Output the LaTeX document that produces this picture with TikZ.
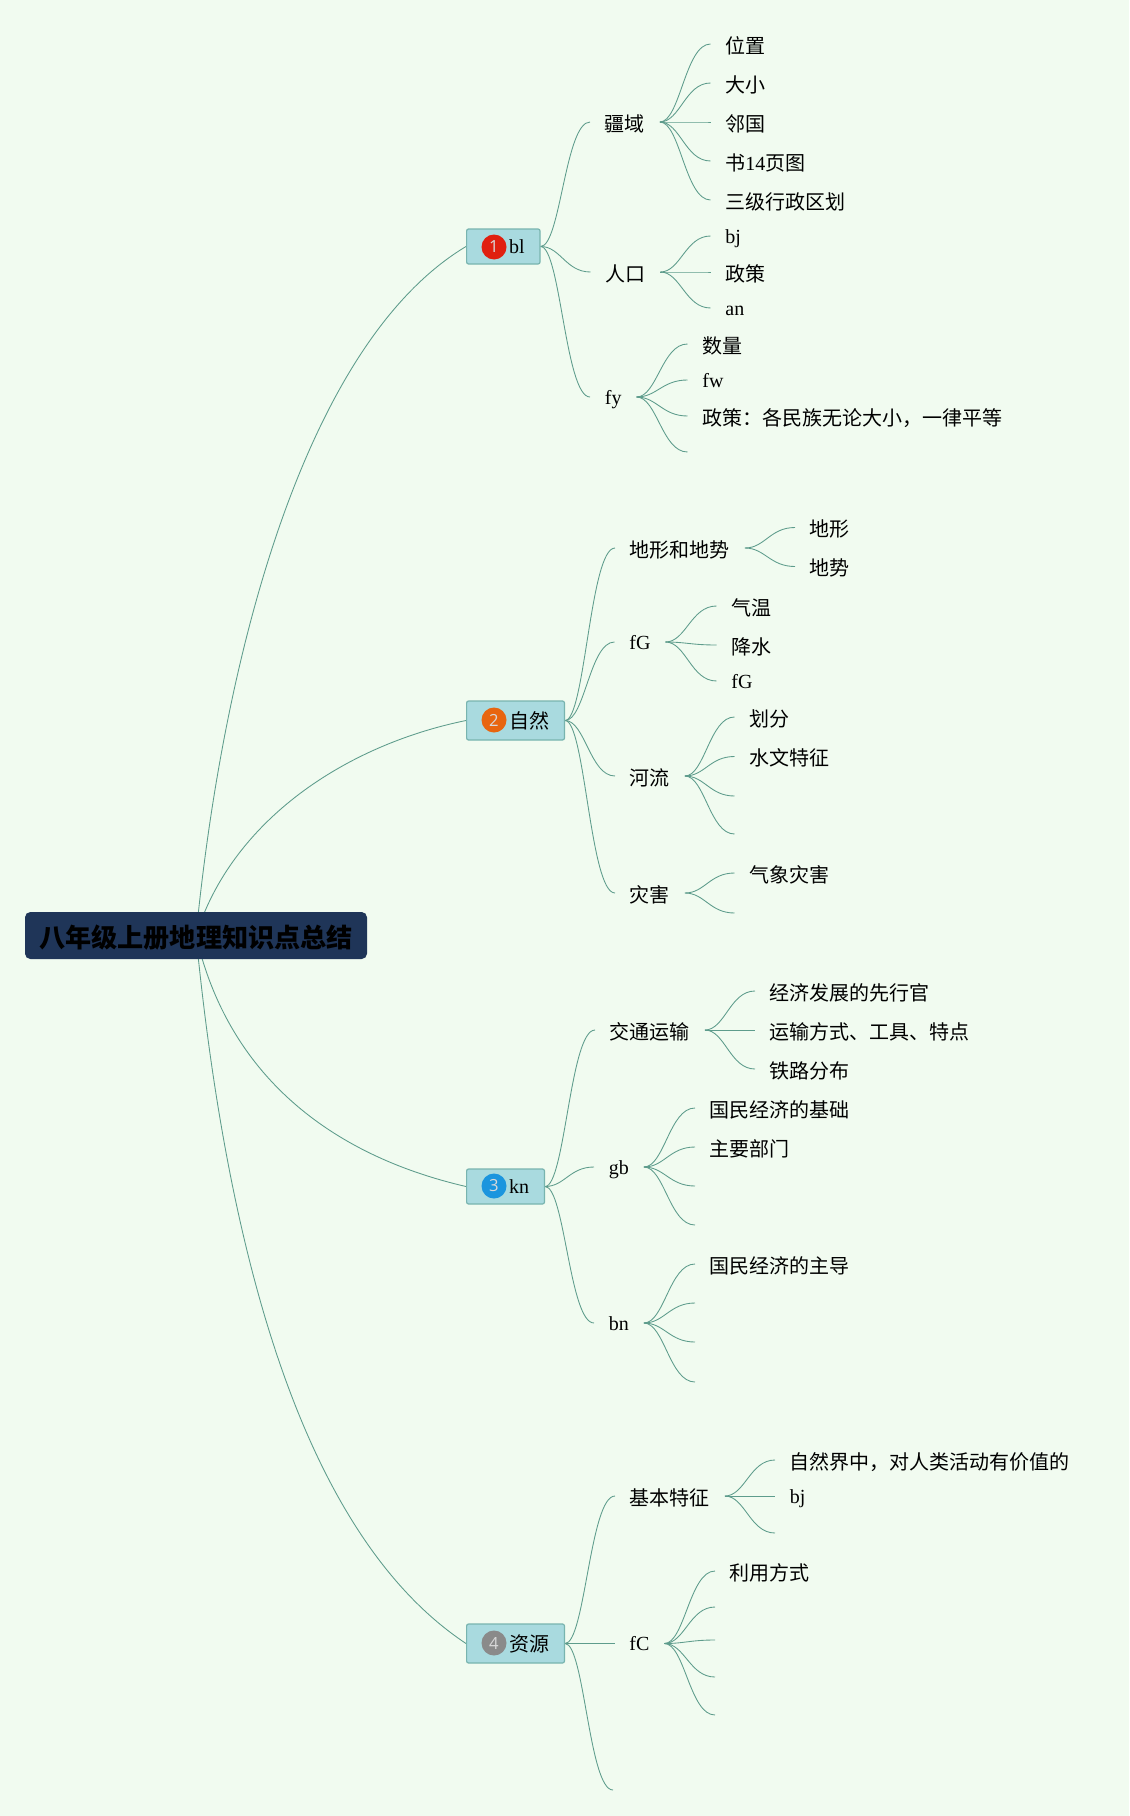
\documentclass[tikz,border=0pt]{standalone}
\usepackage{fontspec}
\setmainfont{Liberation Serif}
\setsansfont{Open Sans}
\newfontfamily\cjk{Noto Sans CJK SC}
\usetikzlibrary{calc, backgrounds}
\definecolor{cPage}{HTML}{F1FBF0}
\definecolor{cRoot}{HTML}{1F3558}
\definecolor{cBox}{HTML}{A9DADF}
\definecolor{cBoxLine}{HTML}{78B4AF}
\definecolor{cLine}{HTML}{5E9C8C}
\definecolor{cRed}{HTML}{E02010}
\definecolor{cOrange}{HTML}{E8650F}
\definecolor{cBlue}{HTML}{1B95DE}
\definecolor{cGrey}{HTML}{8A8A8A}

\begin{document}
\begin{tikzpicture}[
    x=0.75pt, y=-0.75pt, font=\fontsize{15}{18}\selectfont,
    root/.style={fill=cRoot, rounded corners=4pt, minimum width=256.5pt,
                 minimum height=35.25pt, inner sep=0pt,
                 text height=20pt, text depth=2.2pt,
                 font=\fontsize{19.6}{22}\selectfont\cjk\bfseries},
    branch/.style={draw=cBoxLine, fill=cBox, line width=0.9pt, rounded corners=1.5pt,
                   anchor=west, inner xsep=11.5pt, inner ysep=0pt,
                   execute at begin node={\hspace*{20.4pt}}},
    badge/.style={circle, inner sep=0pt, minimum size=18.75pt, text=white!85!black,
                  font=\sffamily\fontsize{12.5}{12.5}\selectfont},
    topic/.style={anchor=west, inner xsep=11pt, inner ysep=0pt,
                  text height=13pt, text depth=2pt},
    cn/.style={font=\fontsize{15}{18}\selectfont\cjk, text height=15.6pt},
    conn/.style={draw=cLine, line width=0.65pt, to path={
        let \p1=(\tikztostart), \p2=(\tikztotarget) in
        .. controls ({\x1+0.4*(\x2-\x1)},\y1) and ({\x1+0.5*(\x2-\x1)},\y2) .. (\p2)}},
    trunk/.style={draw=cLine, line width=0.65pt},
]

% ===================== Root =====================
\node[root] (root) at (196,935.5) {八年级上册地理知识点总结};

% ===================== Branch 1 =====================
\node[branch, minimum height=26.25pt] (bl) at (466,246.5) {bl};
\node[badge, fill=cRed] (badge1) at (494,247) {1};

\node[topic, cn] (jy) at (590,122) {疆域};
\node[topic, cn] (jy1) at (710.5,44) {位置};
\node[topic, cn] (jy2) at (710.5,83) {大小};
\node[topic, cn] (jy3) at (710.5,122) {邻国};
\node[topic, cn] (jy4) at (710.5,161) {书{\rmfamily 14}页图};
\node[topic, cn] (jy5) at (710.5,200) {三级行政区划};

\node[topic, cn] (rk) at (590.5,272) {人口};
\node[topic] (rk1) at (710.5,236) {bj};
\node[topic, cn] (rk2) at (710.5,272) {政策};
\node[topic] (rk3) at (710.5,308) {an};

\node[topic] (fy) at (590,397) {fy};
\node[topic, cn] (fy1) at (687.5,344) {数量};
\node[topic] (fy2) at (687.5,380) {fw};
\node[topic, cn] (fy3) at (687.5,416) {政策：各民族无论大小，一律平等};
\node[topic] (fy4) at (687.5,452) {};

% ===================== Branch 2 =====================
\node[branch, minimum height=29.25pt, cn, text height=] (zr) at (466,720.5) {自然};
\node[badge, fill=cOrange] (badge2) at (494,720) {2};

\node[topic, cn] (dx) at (615,548) {地形和地势};
\node[topic, cn] (dx1) at (795,527.5) {地形};
\node[topic, cn] (dx2) at (795,566.5) {地势};

\node[topic] (fg) at (614.5,642) {fG};
\node[topic, cn] (fg1) at (716.5,606) {气温};
\node[topic, cn] (fg2) at (716.5,645) {降水};
\node[topic] (fg3) at (716.5,681) {fG};

\node[topic, cn] (hl) at (615,776) {河流};
\node[topic, cn] (hl1) at (734.5,717) {划分};
\node[topic, cn] (hl2) at (734.5,756.5) {水文特征};
\node[topic] (hl3) at (734.5,796) {};
\node[topic] (hl4) at (734.5,834) {};

\node[topic, cn] (zh) at (615,893) {灾害};
\node[topic, cn] (zh1) at (734.5,873) {气象灾害};
\node[topic] (zh2) at (734.5,913) {};

% ===================== Branch 3 =====================
\node[branch, minimum height=26.25pt] (kn) at (466,1186.5) {kn};
\node[badge, fill=cBlue] (badge3) at (494,1186) {3};

\node[topic, cn] (jt) at (595,1030) {交通运输};
\node[topic, cn] (jt1) at (755,991) {经济发展的先行官};
\node[topic, cn] (jt2) at (755,1030) {运输方式、工具、特点};
\node[topic, cn] (jt3) at (755,1069) {铁路分布};

\node[topic] (gb) at (594,1167) {gb};
\node[topic, cn] (gb1) at (695,1108) {国民经济的基础};
\node[topic, cn] (gb2) at (695,1147) {主要部门};
\node[topic] (gb3) at (695,1186) {};
\node[topic] (gb4) at (695,1225) {};

\node[topic] (bn) at (594,1323) {bn};
\node[topic, cn] (bn1) at (695,1264) {国民经济的主导};
\node[topic] (bn2) at (695,1303) {};
\node[topic] (bn3) at (695,1342) {};
\node[topic] (bn4) at (695,1382) {};

% ===================== Branch 4 =====================
\node[branch, minimum height=29.25pt, cn, text height=] (zy) at (466,1643.5) {资源};
\node[badge, fill=cGrey] (badge4) at (494,1643) {4};

\node[topic, cn] (jb) at (615,1496) {基本特征};
\node[topic, cn] (jb1) at (775,1460) {自然界中，对人类活动有价值的};
\node[topic] (jb2) at (775,1496) {bj};
\node[topic] (jb3) at (775,1533) {};

\node[topic] (fc) at (614.5,1643.5) {fC};
\node[topic, cn] (fc1) at (715,1571) {利用方式};
\node[topic] (fc2) at (715,1607) {};
\node[topic] (fc3) at (715,1640) {};
\node[topic] (fc4) at (715,1677) {};
\node[topic] (fc5) at (715,1715) {};

\node[topic] (zyE) at (613,1790) {};

% ===================== Connectors =====================
\begin{scope}[on background layer]
\fill[cPage] (0,0) rectangle (1129,1816);

\draw[trunk] (root.center) .. controls (225,640) and (310,340) .. (bl.west);
\draw[trunk] (root.center) .. controls (232,820) and (346,745) .. (zr.west);
\draw[trunk] (root.center) .. controls (228,1075) and (330,1155) .. (kn.west);
\draw[trunk] (root.center) .. controls (225,1230) and (295,1530) .. (zy.west);

\draw[conn] (bl.east) to (jy.west);
\draw[conn] (bl.east) to (rk.west);
\draw[conn] (bl.east) to (fy.west);
\draw[conn] (jy.east) to (jy1.west);
\draw[conn] (jy.east) to (jy2.west);
\draw[conn] (jy.east) to (jy3.west);
\draw[conn] (jy.east) to (jy4.west);
\draw[conn] (jy.east) to (jy5.west);
\draw[conn] (rk.east) to (rk1.west);
\draw[conn] (rk.east) to (rk2.west);
\draw[conn] (rk.east) to (rk3.west);
\draw[conn] (fy.east) to (fy1.west);
\draw[conn] (fy.east) to (fy2.west);
\draw[conn] (fy.east) to (fy3.west);
\draw[conn] (fy.east) to (fy4.west);

\draw[conn] (zr.east) to (dx.west);
\draw[conn] (zr.east) to (fg.west);
\draw[conn] (zr.east) to (hl.west);
\draw[conn] (zr.east) to (zh.west);
\draw[conn] (dx.east) to (dx1.west);
\draw[conn] (dx.east) to (dx2.west);
\draw[conn] (fg.east) to (fg1.west);
\draw[conn] (fg.east) to (fg2.west);
\draw[conn] (fg.east) to (fg3.west);
\draw[conn] (hl.east) to (hl1.west);
\draw[conn] (hl.east) to (hl2.west);
\draw[conn] (hl.east) to (hl3.west);
\draw[conn] (hl.east) to (hl4.west);
\draw[conn] (zh.east) to (zh1.west);
\draw[conn] (zh.east) to (zh2.west);

\draw[conn] (kn.east) to (jt.west);
\draw[conn] (kn.east) to (gb.west);
\draw[conn] (kn.east) to (bn.west);
\draw[conn] (jt.east) to (jt1.west);
\draw[conn] (jt.east) to (jt2.west);
\draw[conn] (jt.east) to (jt3.west);
\draw[conn] (gb.east) to (gb1.west);
\draw[conn] (gb.east) to (gb2.west);
\draw[conn] (gb.east) to (gb3.west);
\draw[conn] (gb.east) to (gb4.west);
\draw[conn] (bn.east) to (bn1.west);
\draw[conn] (bn.east) to (bn2.west);
\draw[conn] (bn.east) to (bn3.west);
\draw[conn] (bn.east) to (bn4.west);

\draw[conn] (zy.east) to (jb.west);
\draw[conn] (zy.east) to (fc.west);
\draw[conn] (zy.east) to (zyE.west);
\draw[conn] (jb.east) to (jb1.west);
\draw[conn] (jb.east) to (jb2.west);
\draw[conn] (jb.east) to (jb3.west);
\draw[conn] (fc.east) to (fc1.west);
\draw[conn] (fc.east) to (fc2.west);
\draw[conn] (fc.east) to (fc3.west);
\draw[conn] (fc.east) to (fc4.west);
\draw[conn] (fc.east) to (fc5.west);
\end{scope}

\end{tikzpicture}
\end{document}
